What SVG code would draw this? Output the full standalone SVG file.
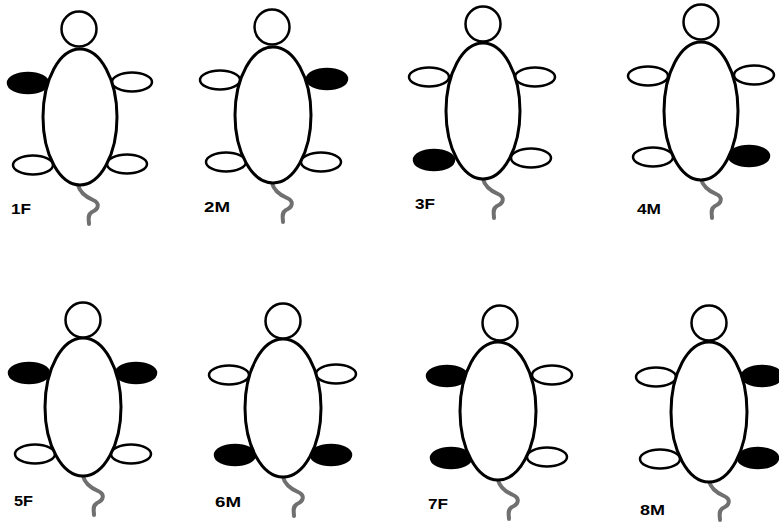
<svg xmlns="http://www.w3.org/2000/svg" xmlns:xlink="http://www.w3.org/1999/xlink" width="779" height="522" viewBox="0 0 779 522">
  <style>
    .body { fill: #fff; stroke: #000; stroke-width: 3; }
    .head { fill: #fff; stroke: #000; stroke-width: 2.5; }
    .paw { fill: #fff; stroke: #000; stroke-width: 2.5; }
    .paw.marked { fill: #000; }
    .tail { fill: none; stroke: #707070; stroke-width: 4; stroke-linecap: round; }
    .label { font-family: "Liberation Sans", Arial, sans-serif; font-weight: bold; font-size: 15px; fill: #000; }
  </style>
  <defs>
    <!-- wavy tail, drawn from the body's lower pole -->
    <path id="tail" class="tail" d="M0,0 C2,8 8,12 15,15 C22,18 21,24 14,27 C9,30 11,35 11,39"/>
  </defs>
  <rect width="779" height="522" fill="#fff"/>

  <!-- Mouse 1F: front-left paw marked -->
  <g id="mouse-1F">
    <use xlink:href="#tail" x="78" y="185"/>
    <ellipse class="paw marked" cx="28" cy="83" rx="20" ry="10"/>
    <ellipse class="paw" cx="132" cy="82" rx="20" ry="9.5"/>
    <ellipse class="paw" cx="33" cy="165" rx="20" ry="9.5"/>
    <ellipse class="paw" cx="127" cy="164" rx="20" ry="9.5"/>
    <ellipse class="body" cx="80" cy="117" rx="37" ry="68"/>
    <circle class="head" cx="79" cy="29" r="17.5"/>
    <text class="label" x="11" y="214" textLength="20" lengthAdjust="spacingAndGlyphs">1F</text>
  </g>

  <!-- Mouse 2M: front-right paw marked -->
  <g id="mouse-2M">
    <use xlink:href="#tail" x="272" y="183"/>
    <ellipse class="paw" cx="220" cy="80" rx="20" ry="9.5"/>
    <ellipse class="paw marked" cx="327" cy="79" rx="20" ry="10"/>
    <ellipse class="paw" cx="226" cy="162" rx="20" ry="9.5"/>
    <ellipse class="paw" cx="321" cy="162" rx="20" ry="9.5"/>
    <ellipse class="body" cx="273" cy="115" rx="38" ry="68"/>
    <circle class="head" cx="272" cy="27" r="17.5"/>
    <text class="label" x="204" y="212" textLength="26" lengthAdjust="spacingAndGlyphs">2M</text>
  </g>

  <!-- Mouse 3F: hind-left paw marked -->
  <g id="mouse-3F">
    <use xlink:href="#tail" x="483" y="179"/>
    <ellipse class="paw" cx="429" cy="77" rx="20" ry="9.5"/>
    <ellipse class="paw" cx="535" cy="77" rx="20" ry="9.5"/>
    <ellipse class="paw marked" cx="434" cy="160" rx="20" ry="10"/>
    <ellipse class="paw" cx="531" cy="158" rx="20" ry="9.5"/>
    <ellipse class="body" cx="483" cy="111" rx="37" ry="68"/>
    <circle class="head" cx="483" cy="24" r="17.5"/>
    <text class="label" x="415" y="209" textLength="20" lengthAdjust="spacingAndGlyphs">3F</text>
  </g>

  <!-- Mouse 4M: hind-right paw marked -->
  <g id="mouse-4M">
    <use xlink:href="#tail" x="701" y="179"/>
    <ellipse class="paw" cx="648" cy="76" rx="20" ry="9.5"/>
    <ellipse class="paw" cx="754" cy="75" rx="20" ry="9.5"/>
    <ellipse class="paw" cx="653" cy="157" rx="20" ry="9.5"/>
    <ellipse class="paw marked" cx="749" cy="156" rx="20" ry="10"/>
    <ellipse class="body" cx="701" cy="111" rx="37" ry="69"/>
    <circle class="head" cx="701" cy="22" r="17.5"/>
    <text class="label" x="637" y="214" textLength="24" lengthAdjust="spacingAndGlyphs">4M</text>
  </g>

  <!-- Mouse 5F: both front paws marked -->
  <g id="mouse-5F">
    <use xlink:href="#tail" x="83" y="476"/>
    <ellipse class="paw marked" cx="29" cy="373" rx="20" ry="10"/>
    <ellipse class="paw marked" cx="136" cy="373" rx="20" ry="10"/>
    <ellipse class="paw" cx="35" cy="454" rx="20" ry="9.5"/>
    <ellipse class="paw" cx="131" cy="454" rx="20" ry="9.5"/>
    <ellipse class="body" cx="83" cy="407" rx="38" ry="69"/>
    <circle class="head" cx="83" cy="320" r="17.5"/>
    <text class="label" x="14" y="506" textLength="19" lengthAdjust="spacingAndGlyphs">5F</text>
  </g>

  <!-- Mouse 6M: both hind paws marked -->
  <g id="mouse-6M">
    <use xlink:href="#tail" x="283" y="477"/>
    <ellipse class="paw" cx="229" cy="375" rx="20" ry="9.5"/>
    <ellipse class="paw" cx="336" cy="374" rx="20" ry="9.5"/>
    <ellipse class="paw marked" cx="235" cy="455" rx="20" ry="10"/>
    <ellipse class="paw marked" cx="331" cy="455" rx="20" ry="10"/>
    <ellipse class="body" cx="283" cy="408" rx="38" ry="69"/>
    <circle class="head" cx="283" cy="321" r="17.5"/>
    <text class="label" x="215" y="507" textLength="26" lengthAdjust="spacingAndGlyphs">6M</text>
  </g>

  <!-- Mouse 7F: both left paws marked -->
  <g id="mouse-7F">
    <use xlink:href="#tail" x="498" y="480"/>
    <ellipse class="paw marked" cx="447" cy="376" rx="20" ry="10"/>
    <ellipse class="paw" cx="552" cy="375" rx="20" ry="9.5"/>
    <ellipse class="paw marked" cx="451" cy="458" rx="20" ry="10"/>
    <ellipse class="paw" cx="547" cy="457" rx="20" ry="9.5"/>
    <ellipse class="body" cx="498" cy="411" rx="38" ry="69"/>
    <circle class="head" cx="500" cy="323" r="17.5"/>
    <text class="label" x="428" y="509" textLength="20" lengthAdjust="spacingAndGlyphs">7F</text>
  </g>

  <!-- Mouse 8M: both right paws marked -->
  <g id="mouse-8M">
    <use xlink:href="#tail" x="709" y="481"/>
    <ellipse class="paw" cx="656" cy="377" rx="20" ry="9.5"/>
    <ellipse class="paw marked" cx="762" cy="376" rx="20" ry="10"/>
    <ellipse class="paw" cx="660" cy="459" rx="20" ry="9.5"/>
    <ellipse class="paw marked" cx="758" cy="458" rx="20" ry="10"/>
    <ellipse class="body" cx="709" cy="412" rx="38" ry="70"/>
    <circle class="head" cx="709" cy="323" r="17.5"/>
    <text class="label" x="640" y="515" textLength="25" lengthAdjust="spacingAndGlyphs">8M</text>
  </g>
</svg>
